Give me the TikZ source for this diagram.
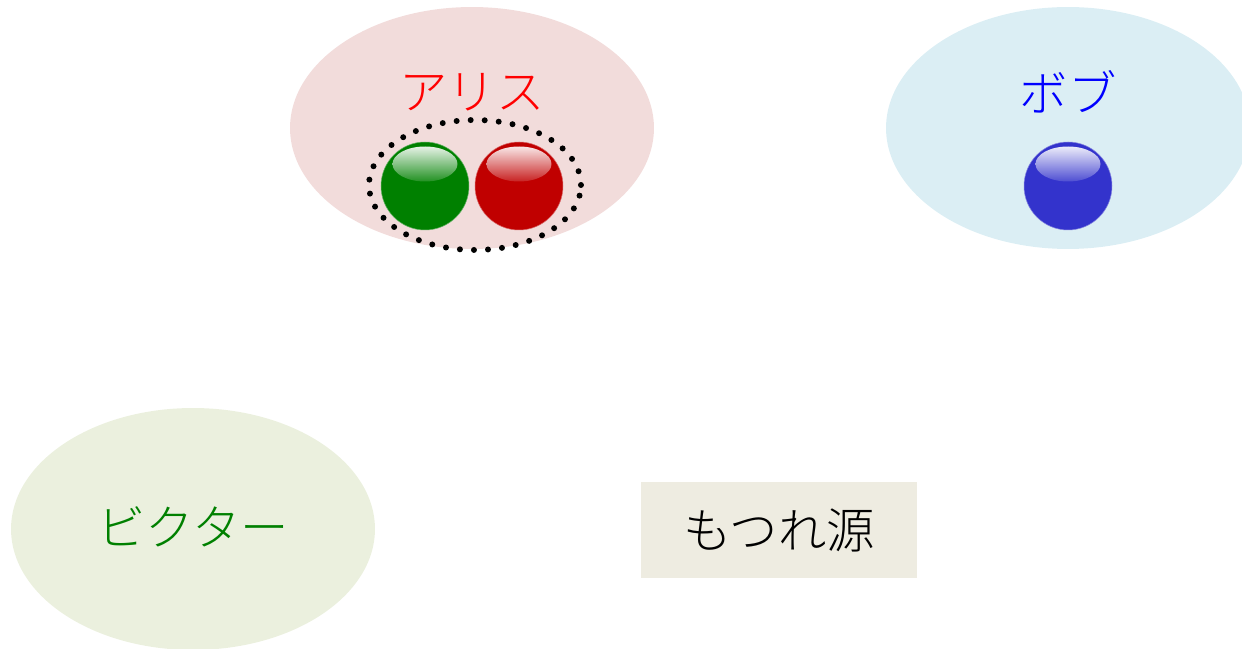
\documentclass[tikz,border=0pt]{standalone}
\usepackage{fontspec}
\setmainfont{Noto Sans CJK JP Light}
\usetikzlibrary{shapes.geometric}
\definecolor{alicebg}{HTML}{F2DCDB}
\definecolor{bobbg}{HTML}{DBEEF4}
\definecolor{victorbg}{HTML}{EBF0DE}
\definecolor{sourcebg}{HTML}{EEECE1}
\definecolor{ballgreen}{HTML}{008000}
\definecolor{ballred}{HTML}{C00000}
\definecolor{ballblue}{HTML}{3333CC}
\tikzset{
  party/.style={ellipse, minimum width=7.28cm, minimum height=4.84cm, inner sep=0pt},
  who/.style={font=\fontsize{27.5}{27.5}\selectfont, inner sep=0pt},
  ball/.style={circle, minimum size=1.76cm, inner sep=0pt, draw=#1!60!white, line width=0.3pt, fill=#1},
}
\newcommand{\gloss}[2]{\shade[top color=white, bottom color=#2!85!white, opacity=0.9]
  ([yshift=0.44cm]#1.center) ellipse [x radius=0.65cm, y radius=0.35cm];}
\begin{document}
\begin{tikzpicture}[x=0.02cm, y=0.02cm]
  \useasboundingbox (0,0) rectangle (1242,649);
  \node[party, fill=alicebg] (A) at (472,521) {};
  \node[party, fill=bobbg] (B) at (1068,521) {};
  \node[party, fill=victorbg] (V) at (193,120) {};
  \node[who, text=red] (An) at (472,557) {アリス};
  \node[who, text=blue] (Bn) at (1068,557) {ボブ};
  \node[who, text=ballgreen] (Vn) at (193,122) {ビクター};
  \node[who, fill=sourcebg, minimum width=5.52cm, minimum height=1.92cm] (S) at (779,119) {もつれ源};
  % pair shared by Alice
  \node[ellipse, minimum width=4.24cm, minimum height=2.6cm, draw, line width=3.4pt,
    dash pattern=on 0pt off 8pt, line cap=round] (P) at (475,464) {};
  \node[ball=ballgreen] (g) at (425,463) {}; \gloss{g}{ballgreen}
  \node[ball=ballred] (r) at (519,463) {}; \gloss{r}{ballred}
  \node[ball=ballblue] (b) at (1068,463) {}; \gloss{b}{ballblue}
\end{tikzpicture}
\end{document}
